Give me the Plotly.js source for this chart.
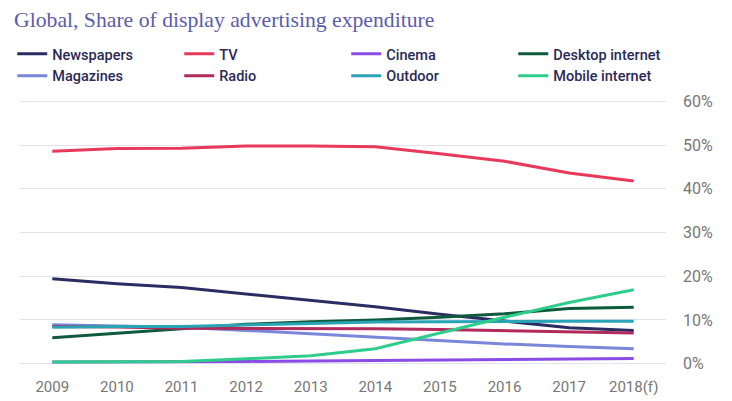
<!DOCTYPE html>
<html>
<head>
<meta charset="utf-8">
<script src="https://cdn.plot.ly/plotly-3.0.1.min.js"></script>
<style>html,body{margin:0;padding:0;background:#fff;}#chart{width:732px;height:401px;}</style>
</head>
<body>
<div id="chart"></div>
<script>
const years = ["2009","2010","2011","2012","2013","2014","2015","2016","2017","2018(f)"];
const newspapers = [19.4, 18.3, 17.4, 15.9, 14.5, 13.0, 11.3, 9.8, 8.2, 7.6];
const tv = [48.6, 49.2, 49.3, 49.8, 49.8, 49.6, 48.0, 46.3, 43.6, 41.8];
const cinema = [0.4, 0.4, 0.45, 0.5, 0.6, 0.75, 0.9, 1.0, 1.1, 1.2];
const desktop = [5.9, 7.0, 8.0, 9.0, 9.6, 10.0, 10.6, 11.4, 12.6, 12.9];
const magazines = [8.9, 8.6, 8.3, 7.6, 6.8, 6.1, 5.2, 4.5, 3.9, 3.4];
const radio = [8.5, 8.4, 8.1, 8.1, 8.1, 8.0, 7.8, 7.5, 7.3, 7.0];
const outdoor = [8.3, 8.5, 8.5, 8.9, 9.2, 9.5, 9.6, 9.6, 9.7, 9.7];
const mobile = [0.4, 0.4, 0.5, 1.1, 1.8, 3.4, 7.0, 10.6, 14.0, 16.9];
const yTicks = [0, 10, 20, 30, 40, 50, 60];
const yTickText = ["0%", "10%", "20%", "30%", "40%", "50%", "60%"];

const series = [
  {name: "Newspapers", y: newspapers, color: "#2b2d62"},
  {name: "TV", y: tv, color: "#e8395b"},
  {name: "Cinema", y: cinema, color: "#8b4ce6"},
  {name: "Desktop internet", y: desktop, color: "#0f5a3e"},
  {name: "Magazines", y: magazines, color: "#7a86da"},
  {name: "Radio", y: radio, color: "#b02a5c"},
  {name: "Outdoor", y: outdoor, color: "#2ba3b6"},
  {name: "Mobile internet", y: mobile, color: "#2fcd8b"}
];

const traces = series.map(s => ({
  type: "scatter", mode: "lines", name: s.name, x: years, y: s.y,
  line: {color: s.color, width: 3}, hoverinfo: "skip"
}));

const layout = {
  width: 732, height: 401,
  margin: {l: 15, r: 66, t: 97, b: 33},
  paper_bgcolor: "#fff", plot_bgcolor: "#fff",
  title: {
    text: "Global, Share of display advertising expenditure",
    font: {family: "Liberation Serif, DejaVu Serif, serif", size: 21.7, color: "#5b5cab"},
    x: 14/732, xanchor: "left", xref: "container",
    y: 1 - 19/401, yanchor: "middle", yref: "container"
  },
  showlegend: true,
  legend: {
    orientation: "h", x: -0.012, xanchor: "left", y: 1.218, yanchor: "top",
    font: {family: "Roboto, Liberation Sans, sans-serif", size: 14.5, color: "#2a2a55", weight: 500},
    entrywidth: 122, entrywidthmode: "pixels", traceorder: "normal",
    itemwidth: 30, bgcolor: "rgba(0,0,0,0)"
  },
  xaxis: {
    type: "category", range: [-0.5, 9.5], showgrid: false, zeroline: false, showline: false,
    ticks: "", ticklabelstandoff: 8,
    tickfont: {family: "Roboto, Liberation Sans, sans-serif", size: 15, color: "#777"},
    fixedrange: true
  },
  yaxis: {
    side: "right", range: [-1, 61], tickvals: yTicks, ticktext: yTickText,
    showgrid: true, gridcolor: "#e2e2ef", gridwidth: 1, zeroline: false, showline: false,
    ticks: "", ticklabelstandoff: 16,
    tickfont: {family: "Roboto, Liberation Sans, sans-serif", size: 16, color: "#777"},
    fixedrange: true
  }
};

Plotly.newPlot("chart", traces, layout, {displayModeBar: false, staticPlot: true});
</script>
</body>
</html>
